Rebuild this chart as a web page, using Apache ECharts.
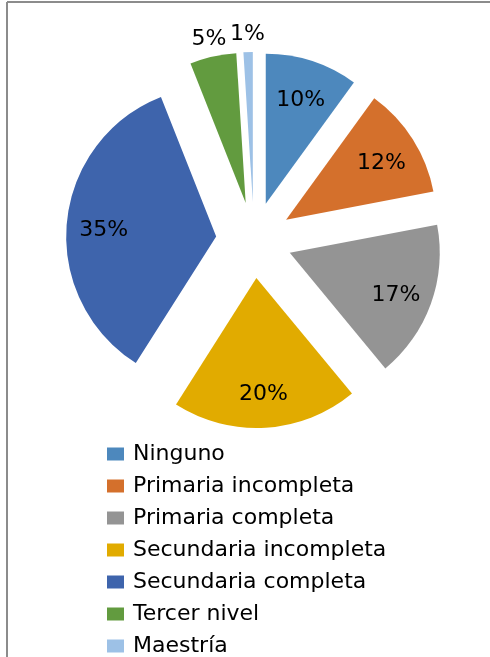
<!DOCTYPE html>
<html>
<head>
<meta charset="utf-8">
<script src="https://cdn.jsdelivr.net/npm/echarts@6/dist/echarts.min.js"></script>
<style>
  html, body { margin: 0; padding: 0; background: #fff; }
  #chart { width: 490px; height: 657px; }
</style>
</head>
<body>
<div id="chart"></div>
<script>
// datos (porcentajes)
const categorias = ['Ninguno', 'Primaria incompleta', 'Primaria completa', 'Secundaria incompleta', 'Secundaria completa', 'Tercer nivel', 'Maestría'];
const porcentajes = [10, 12, 17, 20, 35, 5, 1];
const colores = ['#4d88bd', '#d4702c', '#949494', '#e1ab00', '#3e64ac', '#629b3f', '#9dc1e6'];
const etiquetasFuera = ['Tercer nivel', 'Maestría'];  // etiquetas que van afuera

const chart = echarts.init(document.getElementById('chart'));

const centro = [254, 240];
const desplazamiento = 38;

const estiloEtiqueta = {
    fontFamily: 'DejaVu Sans',
    fontSize: 22,
    color: '#000'
};

// anillo transparente solo para poner las etiquetas
function serieEtiquetas(radio, fuera) {
    return {
        type: 'pie',
        center: centro,
        radius: radio,
        startAngle: 90,
        clockwise: true,
        selectedMode: 'multiple',
        selectedOffset: desplazamiento,
        silent: true,
        avoidLabelOverlap: false,
        itemStyle: { color: 'rgba(0,0,0,0)', borderWidth: 0 },
        select: { itemStyle: { color: 'rgba(0,0,0,0)' } },
        labelLine: { show: false },
        label: Object.assign({ show: true, position: 'inside', formatter: '{c}%' }, estiloEtiqueta),
        labelLayout: { hideOverlap: false, dy: fuera ? 0 : 4 },
        data: categorias.map((c, i) => ({
            value: porcentajes[i],
            selected: true,
            label: { show: etiquetasFuera.includes(c) === fuera }
        }))
    };
}

let option = {
    animation: false,
    color: colores,
    legend: {
        orient: 'vertical',
        left: 102,
        top: 438,
        height: 219,
        itemWidth: 17,
        itemHeight: 13,
        itemGap: 10,
        icon: 'rect',
        data: categorias,
        textStyle: {
            fontFamily: 'DejaVu Sans',
            fontSize: 22,
            lineHeight: 22,
            color: '#000',
            padding: [0, 0, 0, 4]
        }
    },
    graphic: [
        { type: 'line', shape: { x1: 7, y1: 2, x2: 490, y2: 2 }, style: { stroke: '#8c8c8c', lineWidth: 2 } },
        { type: 'line', shape: { x1: 7, y1: 2, x2: 7, y2: 657 }, style: { stroke: '#8c8c8c', lineWidth: 2 } }
    ],
    series: [
        {
            // sectores
            type: 'pie',
            center: centro,
            radius: [0, 150],
            startAngle: 90,
            clockwise: true,
            selectedMode: 'multiple',
            selectedOffset: desplazamiento,
            silent: true,
            label: { show: false },
            labelLine: { show: false },
            itemStyle: { borderWidth: 0 },
            data: categorias.map((c, i) => ({
                name: c,
                value: porcentajes[i],
                selected: true,
                itemStyle: { color: colores[i] },
                select: { itemStyle: { color: colores[i] } }
            }))
        },
        serieEtiquetas([70, 150], false),
        serieEtiquetas([150, 180], true)
    ]
};

chart.setOption(option);
</script>
</body>
</html>
